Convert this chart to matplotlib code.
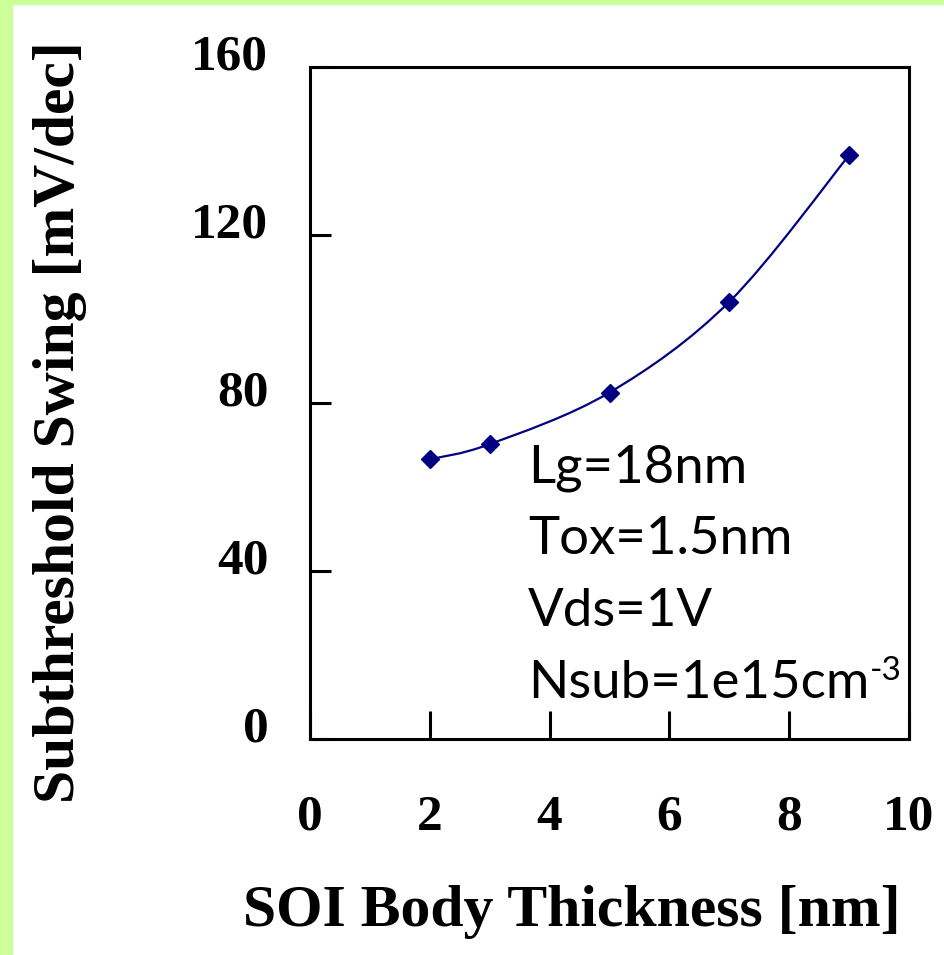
import matplotlib
matplotlib.use("Agg")
import matplotlib.pyplot as plt
from matplotlib.path import Path
from matplotlib.patches import PathPatch, Rectangle
from matplotlib.transforms import ScaledTranslation
import numpy as np

# ---- data ----
thickness_nm = [2, 3, 5, 7, 9]
swing_mv_dec = [66.6, 70.2, 82.5, 104.1, 139.0]
x_ticks = [0, 2, 4, 6, 8, 10]
y_ticks = [0, 40, 80, 120, 160]
x_label = "SOI Body Thickness [nm]"
y_label = "Subthreshold Swing [mV/dec]"
notes = ["Lg=18nm", "Tox=1.5nm", "Vds=1V", "Nsub=1e15cm"]
nsub_exp = "-3"

W, H, DPI = 945, 955, 100
fig = plt.figure(figsize=(W / DPI, H / DPI), dpi=DPI)
fig.patch.set_facecolor("white")
# green frame (left and top strips)
green = "#CCFF99"
fig.patches.append(Rectangle((0, 0), 12 / W, 1, transform=fig.transFigure, color=green, zorder=-10))
fig.patches.append(Rectangle((0, 1 - 4 / H), 1, 4 / H, transform=fig.transFigure, color=green, zorder=-10))

ax = fig.add_axes([310 / W, 1 - 739 / H, (909 - 310) / W, (739 - 67) / H])
ax.set_xlim(0, 10)
ax.set_ylim(0, 160)
for s in ax.spines.values():
    s.set_linewidth(2.2)
    s.set_color("black")

serif = dict(family="Liberation Serif", weight="bold")
ax.set_xticks(x_ticks)
ax.set_yticks(y_ticks)
ax.set_xticklabels([str(v) for v in x_ticks], fontsize=37, **serif)
ax.set_yticklabels([str(v) for v in y_ticks], fontsize=37, **serif)
ax.tick_params(axis="x", direction="in", length=20, width=2.2, pad=40)
ax.tick_params(axis="y", direction="in", length=15, width=2.2, pad=30)
off = ScaledTranslation(0, 15 / DPI, fig.dpi_scale_trans)
for lab in ax.get_yticklabels():
    lab.set_transform(lab.get_transform() + off)

ax.set_xlabel(x_label, fontsize=43, **serif)
ax.set_ylabel(y_label, fontsize=43, **serif)
ax.xaxis.set_label_coords((572 - 310) / (909 - 310), -(912 - 739) / (739 - 67))
ax.yaxis.set_label_coords((60 - 310) / (909 - 310), (739 - 422) / (739 - 67))
ax.xaxis.label.set_va("center")
ax.yaxis.label.set_va("center")

# smoothed line (Excel-style Bezier through points)
color = "#000080"
px = np.array(thickness_nm, float)
py = np.array(swing_mv_dec, float)
pts = np.column_stack([px, py])
n = len(pts)
verts = [pts[0]]
codes = [Path.MOVETO]
for i in range(n - 1):
    p0 = pts[i - 1] if i > 0 else pts[i]
    p1 = pts[i]
    p2 = pts[i + 1]
    p3 = pts[i + 2] if i + 2 < n else pts[i + 1]
    c1 = p1 + (p2 - p0) / 6.0
    c2 = p2 - (p3 - p1) / 6.0
    verts += [c1, c2, p2]
    codes += [Path.CURVE4] * 3
ax.add_patch(PathPatch(Path(verts, codes), facecolor="none", edgecolor=color, lw=1.6, zorder=3))
ax.plot(thickness_nm, swing_mv_dec, linestyle="none", marker="D", markersize=9,
        color=color, zorder=4)

sans = dict(family=["Lato", "DejaVu Sans"], color="black")
texts = []
for i, t in enumerate(notes):
    texts.append(ax.text((528 - 310) / (909 - 310), (739 - (482 + 72 * i)) / (739 - 67), t,
                         transform=ax.transAxes, ha="left", va="baseline", fontsize=38, **sans))
# superscript exponent after the last line
fig.canvas.draw()
r = fig.canvas.get_renderer()
bb = texts[-1].get_window_extent(r)
xe, ye = fig.transFigure.inverted().transform((bb.x1 + 1, bb.y0))
base_y = fig.transFigure.inverted().transform(ax.transAxes.transform((0, texts[-1].get_position()[1])))[1]
fig.text(xe, base_y + 18 / H, nsub_exp, ha="left", va="baseline", fontsize=24, **sans)

fig.savefig("out.png", dpi=DPI, facecolor="white")
